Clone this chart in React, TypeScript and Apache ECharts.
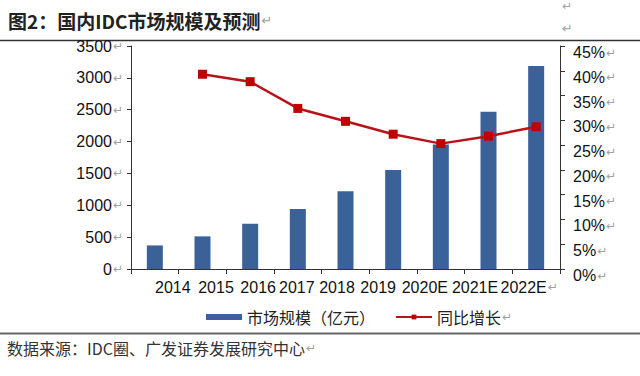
import React, { useEffect, useRef } from 'react';
import * as echarts from 'echarts';

// ---- data ----
const categories = ['2014', '2015', '2016', '2017', '2018', '2019', '2020E', '2021E', '2022E'];
const marketSize = [370, 512, 710, 940, 1222, 1555, 1955, 2470, 3185];
const growthRate = [null, 39.3, 37.8, 32.4, 29.8, 27.2, 25.3, 26.8, 28.7];
const leftAxisTicks = [0, 500, 1000, 1500, 2000, 2500, 3000, 3500];
const rightAxisTicks = [0, 5, 10, 15, 20, 25, 30, 35, 40, 45];
const seriesNames = ['市场规模（亿元）', '同比增长'];
const titleText = '图2：国内IDC市场规模及预测';
const sourceText = '数据来源：IDC圈、广发证券发展研究中心';

// ---- styling (label nudges, as in the original Excel export) ----
const xLabelShift = [18, 13.5, 8, -1, -8.5, -15, -16, -13.5, -7];

const RET = { color: '#a0a0a0', fontSize: 12, fontFamily: '"DejaVu Sans"', padding: [0, 0, 0, 1] };
const LATIN = 'Arial, "Liberation Sans", "Noto Sans CJK SC", sans-serif';
const CJK = '"Noto Sans CJK SC", "Liberation Sans", sans-serif';

export default function App() {
  const ref = useRef<HTMLDivElement>(null);

  useEffect(() => {
    if (!ref.current) return;
    const chart = echarts.init(ref.current, null, { renderer: 'svg' });
    const lastCat = categories[categories.length - 1];

    chart.setOption({
      animation: false,
      backgroundColor: '#ffffff',
      grid: { left: 131, right: 80, top: 46, bottom: 107, containLabel: false },
      legend: {
        left: 201,
        top: 304,
        itemWidth: 36,
        itemHeight: 6,
        itemGap: 20,
        textStyle: { fontSize: 16, color: '#222', fontFamily: CJK, rich: { r: RET } },
        formatter: (name: string) => (name === seriesNames[1] ? `${name}{r|↵}` : name),
        data: [{ name: seriesNames[0], icon: 'rect' }, { name: seriesNames[1] }],
      },
      xAxis: {
        type: 'category',
        data: categories.map((c, i) => {
          const s = xLabelShift[i];
          return {
            value: c,
            textStyle: { padding: s > 0 ? [0, 0, 0, 2 * s] : [0, -2 * s, 0, 0] },
          };
        }),
        axisLine: { lineStyle: { color: '#333', width: 1 } },
        axisTick: { show: true, length: 5, lineStyle: { color: '#333' } },
        axisLabel: {
          interval: 0,
          margin: 10,
          fontSize: 16,
          color: '#111',
          fontFamily: LATIN,
          formatter: (v: string) => (v === lastCat ? `${v}{r|↵}` : v),
          rich: { r: RET },
        },
      },
      yAxis: [
        {
          type: 'value',
          position: 'left',
          min: leftAxisTicks[0],
          max: leftAxisTicks[leftAxisTicks.length - 1],
          interval: leftAxisTicks[1] - leftAxisTicks[0],
          axisLine: { show: true, lineStyle: { color: '#333', width: 1 } },
          axisTick: { show: true, length: 4, lineStyle: { color: '#333' } },
          splitLine: { show: false },
          axisLabel: {
            margin: 8,
            fontSize: 16,
            color: '#111',
            fontFamily: LATIN,
            formatter: (v: number) => `${v}{r|↵}`,
            rich: { r: RET },
          },
        },
        {
          type: 'value',
          position: 'right',
          min: rightAxisTicks[0],
          max: rightAxisTicks[rightAxisTicks.length - 1],
          interval: rightAxisTicks[1] - rightAxisTicks[0],
          axisLine: { show: true, lineStyle: { color: '#333', width: 1 } },
          axisTick: { show: true, length: 5, lineStyle: { color: '#333' } },
          splitLine: { show: false },
          axisLabel: {
            margin: 13,
            fontSize: 16,
            color: '#111',
            fontFamily: LATIN,
            padding: [13, 0, 0, 0],
            formatter: (v: number) => `${v}%{r|↵}`,
            rich: { r: RET },
          },
        },
      ],
      series: [
        {
          name: seriesNames[0],
          type: 'bar',
          yAxisIndex: 0,
          data: marketSize,
          barWidth: 16,
          itemStyle: { color: '#3a6298' },
        },
        {
          name: seriesNames[1],
          type: 'line',
          yAxisIndex: 1,
          data: growthRate,
          symbol: 'rect',
          symbolSize: 9,
          connectNulls: false,
          lineStyle: { color: '#b8121a', width: 2.5 },
          itemStyle: { color: '#c00000' },
          z: 3,
        },
      ],
      graphic: [
        {
          type: 'text',
          left: 8,
          top: 11,
          style: {
            text: `{t|${titleText}}{r|↵}`,
            rich: {
              t: { fontSize: 19, fontWeight: 'bold', fill: '#222', fontFamily: CJK },
              r: { ...RET, fill: '#a0a0a0', fontSize: 13 },
            },
          },
        },
        {
          type: 'text',
          left: 562,
          top: 0,
          style: { text: '↵', fill: '#a0a0a0', fontSize: 12, fontFamily: '"DejaVu Sans"' },
        },
        {
          type: 'text',
          left: 562,
          top: 22,
          style: { text: '↵', fill: '#a0a0a0', fontSize: 13, fontFamily: '"DejaVu Sans"' },
        },
        {
          type: 'line',
          shape: { x1: 0, y1: 40.5, x2: 640, y2: 40.5 },
          style: { stroke: '#333', lineWidth: 1.5 },
        },
        {
          type: 'line',
          shape: { x1: 0, y1: 333.5, x2: 640, y2: 333.5 },
          style: { stroke: '#666', lineWidth: 2 },
        },
        {
          type: 'text',
          left: 7,
          top: 340,
          style: {
            text: `{t|${sourceText}}{r|↵}`,
            rich: {
              t: { fontSize: 16, fill: '#333', fontFamily: CJK },
              r: { ...RET, fill: '#a0a0a0', fontSize: 12 },
            },
          },
        },
      ],
    });

    return () => chart.dispose();
  }, []);

  return (
    <div
      ref={ref}
      style={{ position: 'absolute', left: 0, top: 0, width: 640, height: 376, background: '#fff' }}
    />
  );
}
